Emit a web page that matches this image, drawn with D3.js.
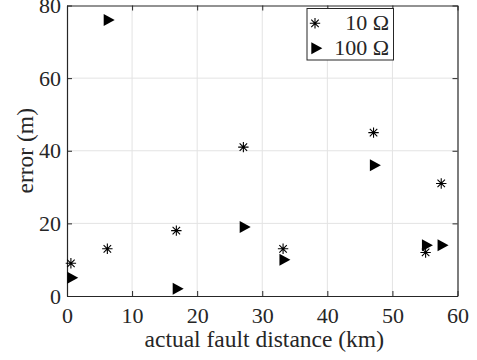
<!DOCTYPE html>
<html lang="en">
<head>
  <meta charset="UTF-8">
  <title>Fault distance error</title>
  <script src="https://d3js.org/d3.v7.min.js"></script>
  <style>
    body { margin: 0; background: #fff; }
  </style>
</head>
<body>
  <svg width="477" height="360"></svg>

  <script>
    // fault distances (km), shared by both series
    const distances = [0.6, 6.2, 16.8, 27.1, 33.2, 47.1, 55.1, 57.5];
    const error10 = [9, 13, 18, 41, 13, 45, 12, 31];
    const error100 = [5, 76, 2, 19, 10, 36, 14, 14];
    const xTicks = [0, 10, 20, 30, 40, 50, 60];
    const yTicks = [0, 20, 40, 60, 80];
    const seriesNames = ["10 \u03A9", "100 \u03A9"];

    const margin = { top: 5.5, right: 19.5, bottom: 64, left: 67 };
    const width = 477 - margin.left - margin.right;
    const height = 360 - margin.top - margin.bottom;
    const axisColor = "#262626";
    const gridColor = "#e3e3e3";
    const fontFamily = "'Liberation Serif', 'Times New Roman', serif";

    const svg = d3.select("svg")
      .append("g")
      .attr("transform", `translate(${margin.left},${margin.top})`);

    const x = d3.scaleLinear().domain([0, 60]).range([0, width]);
    const y = d3.scaleLinear().domain([0, 80]).range([height, 0]);

    // grid
    svg.append("g")
      .selectAll("line")
      .data(xTicks.slice(1, -1))
      .join("line")
      .attr("x1", d => x(d)).attr("x2", d => x(d))
      .attr("y1", 0).attr("y2", height)
      .attr("stroke", gridColor);

    svg.append("g")
      .selectAll("line")
      .data(yTicks.slice(1, -1))
      .join("line")
      .attr("y1", d => y(d)).attr("y2", d => y(d))
      .attr("x1", 0).attr("x2", width)
      .attr("stroke", gridColor);

    // axes with inward ticks on all four sides
    function styleAxis(g) {
      g.select(".domain").attr("stroke", axisColor);
      g.selectAll(".tick line").attr("stroke", axisColor);
      g.selectAll(".tick text")
        .attr("fill", axisColor)
        .style("font-family", fontFamily)
        .style("font-size", "22px");
    }

    svg.append("g")
      .attr("transform", `translate(0,${height})`)
      .call(d3.axisBottom(x).tickValues(xTicks).tickSizeInner(-5).tickSizeOuter(0).tickPadding(11.5))
      .call(styleAxis);

    svg.append("g")
      .call(d3.axisTop(x).tickValues(xTicks).tickSizeInner(-5).tickSizeOuter(0).tickFormat(""))
      .call(styleAxis);

    svg.append("g")
      .call(d3.axisLeft(y).tickValues(yTicks).tickSizeInner(-5).tickSizeOuter(0).tickPadding(6))
      .call(styleAxis);

    svg.append("g")
      .attr("transform", `translate(${width},0)`)
      .call(d3.axisRight(y).tickValues(yTicks).tickSizeInner(-5).tickSizeOuter(0).tickFormat(""))
      .call(styleAxis);

    svg.selectAll(".domain").attr("stroke-width", 1.2);

    // markers
    const starPath = (() => {
      const r = 5.2, q = r * 0.72;
      return `M${-r},0L${r},0M0,${-r}L0,${r}M${-q},${-q}L${q},${q}M${-q},${q}L${q},${-q}`;
    })();
    const triW = 11, triH = 12;
    const triPath = `M${-triW / 3},${-triH / 2}L${2 * triW / 3},0L${-triW / 3},${triH / 2}Z`;

    svg.append("g")
      .selectAll("path")
      .data(distances.map((d, i) => [d, error10[i]]))
      .join("path")
      .attr("transform", d => `translate(${x(d[0])},${y(d[1])})`)
      .attr("d", starPath)
      .attr("stroke", "#000")
      .attr("stroke-width", 1.1)
      .attr("fill", "none");

    svg.append("g")
      .selectAll("path")
      .data(distances.map((d, i) => [d, error100[i]]))
      .join("path")
      .attr("transform", d => `translate(${x(d[0])},${y(d[1])})`)
      .attr("d", triPath)
      .attr("fill", "#000");

    // legend
    const legend = svg.append("g").attr("transform", `translate(${307 - margin.left},${8.5 - margin.top})`);
    legend.append("rect")
      .attr("width", 86.5).attr("height", 51.5)
      .attr("fill", "#fff")
      .attr("stroke", axisColor)
      .attr("stroke-width", 1);

    const rows = legend.selectAll("g.row")
      .data(seriesNames)
      .join("g")
      .attr("class", "row")
      .attr("transform", (d, i) => `translate(0,${14.8 + i * 25})`);

    rows.append("path")
      .attr("transform", "translate(8,0)")
      .attr("d", (d, i) => i === 0 ? starPath : triPath)
      .attr("stroke", (d, i) => i === 0 ? "#000" : "none")
      .attr("stroke-width", 1.1)
      .attr("fill", (d, i) => i === 0 ? "none" : "#000");

    rows.append("text")
      .attr("x", 82)
      .attr("y", 6.5)
      .attr("text-anchor", "end")
      .attr("fill", axisColor)
      .style("font-family", fontFamily)
      .style("font-size", "22px")
      .text(d => d);

    // axis titles
    svg.append("text")
      .attr("x", width / 2 + 2)
      .attr("y", height + 51)
      .attr("text-anchor", "middle")
      .attr("fill", axisColor)
      .style("font-family", fontFamily)
      .style("font-size", "23.5px")
      .text("actual fault distance (km)");

    svg.append("text")
      .attr("transform", "rotate(-90)")
      .attr("x", -height / 2)
      .attr("y", -34)
      .attr("text-anchor", "middle")
      .attr("fill", axisColor)
      .style("font-family", fontFamily)
      .style("font-size", "23.5px")
      .text("error (m)");
  </script>
</body>
</html>
